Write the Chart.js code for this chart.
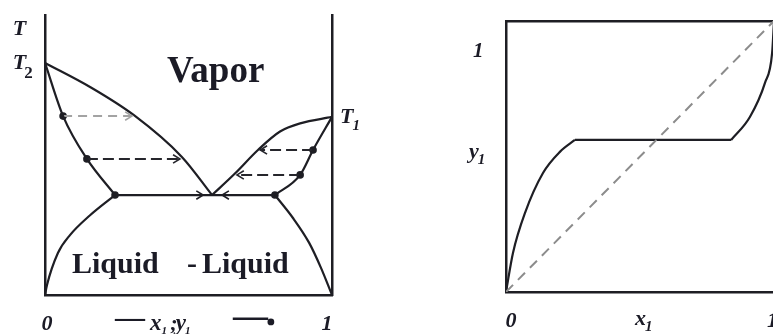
<!DOCTYPE html>
<html>
<head>
<meta charset="utf-8">
<script src="https://cdn.jsdelivr.net/npm/chart.js@4/dist/chart.umd.min.js"></script>
<style>
  html, body { margin: 0; padding: 0; background: #fff; overflow: hidden; width: 773px; height: 334px; }
  #txyBox { position: absolute; left: 0; top: 0; width: 390px; height: 334px; }
  #xyBox  { position: absolute; left: 390px; top: 0; width: 400px; height: 334px; }
</style>
</head>
<body>
<div id="txyBox"><canvas id="txy"></canvas></div>
<div id="xyBox"><canvas id="xy"></canvas></div>
<script>
// ---------- T–x–y diagram (heterogeneous azeotrope) ----------
// x1 / y1 composition (0..1) and temperature on a relative 0..100 scale
const leftLiquidX  = [0, 0.063, 0.146, 0.244];
const leftLiquidT  = [82.9, 63.9, 48.6, 35.7];
const leftVaporX   = [0, 0.157, 0.31, 0.477, 0.582];
const leftVaporT   = [82.9, 74.3, 64.2, 49.3, 35.7];
const rightVaporX  = [0.582, 0.66, 0.742, 0.819, 0.889, 1];
const rightVaporT  = [35.7, 43.2, 51.8, 58.4, 61.3, 63.6];
const rightLiquidX = [0.801, 0.889, 0.934, 1];
const rightLiquidT = [35.7, 42.9, 51.8, 63.6];
const leftSolubX   = [0, 0.007, 0.045, 0.087, 0.157, 0.244];
const leftSolubT   = [0, 3.6, 15, 21.4, 28.5, 35.7];
const rightSolubX  = [0.801, 0.864, 0.92, 0.962, 1];
const rightSolubT  = [35.7, 27.5, 18.7, 9.6, 0];
const threePhaseX  = [0.244, 0.801];
const threePhaseT  = 35.7;
const tieFromX     = [0.063, 0.146, 0.934, 0.889];
const tieToX       = [0.303, 0.470, 0.750, 0.669];
const tieT         = [63.9, 48.6, 51.8, 42.9];
const markerX      = [0.063, 0.146, 0.244, 0.801, 0.889, 0.934];
const markerT      = [63.9, 48.6, 35.7, 35.7, 42.9, 51.8];
const threePhaseArrowTipX = [0.551, 0.617];

// ---------- y–x diagram ----------
const yxLowX   = [0, 0.026, 0.071, 0.138, 0.201, 0.257];
const yxLowY   = [0, 0.144, 0.292, 0.439, 0.517, 0.561];
const plateauX = [0.257, 0.84];
const plateauY = 0.561;
const yxHighX  = [0.84, 0.91, 0.966, 0.993, 1];
const yxHighY  = [0.561, 0.646, 0.771, 0.882, 1];
const diagX    = [0, 1];

const INK = '#1e1e24';
const TXT = '#1b1b26';
const SERIF = "'Liberation Serif', 'DejaVu Serif', serif";

const pts = (xs, ys) => xs.map((x, i) => ({ x, y: Array.isArray(ys) ? ys[i] : ys }));

function curve(xs, ys, extra) {
  return Object.assign({
    data: pts(xs, ys), showLine: true, borderColor: INK, borderWidth: 2.2,
    pointRadius: 0, cubicInterpolationMode: 'monotone', fill: false
  }, extra || {});
}

// open chevron arrowheads at the last point of flagged datasets
const arrowHeads = {
  id: 'arrowHeads',
  afterDatasetsDraw(chart) {
    const ctx = chart.ctx;
    chart.data.datasets.forEach((ds, i) => {
      if (!ds.arrowHead) return;
      const el = chart.getDatasetMeta(i).data;
      const a = el[el.length - 2], b = el[el.length - 1];
      const ang = Math.atan2(b.y - a.y, b.x - a.x);
      const len = 8, spread = 0.55;
      ctx.save();
      ctx.strokeStyle = ds.arrowColor || INK;
      ctx.lineWidth = 1.6;
      ctx.setLineDash([]);
      ctx.beginPath();
      ctx.moveTo(b.x - len * Math.cos(ang - spread), b.y - len * Math.sin(ang - spread));
      ctx.lineTo(b.x, b.y);
      ctx.lineTo(b.x - len * Math.cos(ang + spread), b.y - len * Math.sin(ang + spread));
      ctx.stroke();
      ctx.restore();
    });
  }
};

// text labels placed in data coordinates, with optional subscript
const textLabels = {
  id: 'textLabels',
  afterDraw(chart, args, opts) {
    const ctx = chart.ctx;
    const sx = chart.scales.x, sy = chart.scales.y;
    ctx.save();
    ctx.fillStyle = TXT;
    ctx.strokeStyle = TXT;
    ctx.textBaseline = 'alphabetic';
    (opts.items || []).forEach(it => {
      const px = sx.getPixelForValue(it.x), py = sy.getPixelForValue(it.y);
      if (it.dot) {
        ctx.beginPath(); ctx.arc(px, py, it.dot, 0, Math.PI * 2); ctx.fill();
        return;
      }
      ctx.font = it.font;
      ctx.textAlign = it.align || 'left';
      ctx.fillText(it.text, px, py);
      if (it.sub) {
        const w = ctx.measureText(it.text).width;
        const left = (it.align === 'center') ? px + w / 2 : px + w;
        ctx.font = it.subFont;
        ctx.textAlign = 'left';
        ctx.fillText(it.sub, left + (it.subDx || 0), py + (it.subDy || 6));
      }
    });
    ctx.restore();
  }
};

function hiddenAxis(extra) {
  return Object.assign({
    type: 'linear', display: true,
    grid: { display: false, drawTicks: false },
    ticks: { display: false },
    border: { display: true, color: INK, width: 2.5 }
  }, extra);
}

const F22 = "bold italic 22px " + SERIF;
const F15 = "bold italic 15px " + SERIF;

// ---------- build T–x–y chart ----------
const txyDatasets = [
  curve(leftLiquidX, leftLiquidT),
  curve(leftVaporX, leftVaporT),
  curve(rightVaporX, rightVaporT),
  curve(rightLiquidX, rightLiquidT),
  curve(leftSolubX, leftSolubT),
  curve(rightSolubX, rightSolubT),
  curve(threePhaseX, threePhaseT, { cubicInterpolationMode: 'default', tension: 0 })
];
tieFromX.forEach((x0, i) => {
  const gray = i === 0;
  txyDatasets.push({
    data: [{ x: x0, y: tieT[i] }, { x: tieToX[i], y: tieT[i] }],
    showLine: true, tension: 0, pointRadius: 0,
    borderColor: gray ? '#a3a3a3' : '#26262c', borderWidth: 2,
    borderDash: gray ? [9, 6] : [11, 5],
    arrowHead: true, arrowColor: gray ? '#a3a3a3' : '#26262c'
  });
});
// arrowheads on the three-phase line, converging on the azeotrope
txyDatasets.push({
  data: [{ x: threePhaseArrowTipX[0] - 0.03, y: threePhaseT }, { x: threePhaseArrowTipX[0], y: threePhaseT }],
  showLine: false, pointRadius: 0, arrowHead: true
});
txyDatasets.push({
  data: [{ x: threePhaseArrowTipX[1] + 0.03, y: threePhaseT }, { x: threePhaseArrowTipX[1], y: threePhaseT }],
  showLine: false, pointRadius: 0, arrowHead: true
});
txyDatasets.push({
  data: pts(markerX, markerT), showLine: false,
  pointRadius: 3.8, pointBackgroundColor: INK, pointBorderWidth: 0
});

new Chart(document.getElementById('txy'), {
  type: 'scatter',
  data: { datasets: txyDatasets },
  options: {
    responsive: true, maintainAspectRatio: false, animation: false,
    layout: { padding: { left: 45, right: 58, top: 15, bottom: 39 } },
    scales: {
      x: hiddenAxis({ position: 'bottom', min: 0, max: 1 }),
      y: hiddenAxis({ position: 'left', min: 0, max: 100 }),
      yRight: hiddenAxis({ position: 'right', min: 0, max: 100 })
    },
    plugins: {
      legend: { display: false }, tooltip: { enabled: false },
      textLabels: {
        items: [
          { text: 'T', x: -0.112, y: 92.9, font: F22 },
          { text: 'T', x: -0.112, y: 80.7, font: F22, sub: '2', subFont: "bold 17px " + SERIF, subDx: -2, subDy: 9 },
          { text: 'Vapor', x: 0.425, y: 76.1, font: "bold 37px " + SERIF },
          { text: 'T', x: 1.028, y: 61.4, font: F22, sub: '1', subFont: F15, subDx: -1, subDy: 7 },
          { text: 'Liquid', x: 0.094, y: 7.9, font: "bold 30px " + SERIF },
          { text: '-', x: 0.495, y: 7.9, font: "bold 30px " + SERIF },
          { text: 'Liquid', x: 0.547, y: 7.9, font: "bold 30px " + SERIF },
          { text: '0', x: 0.007, y: -12.5, font: F22, align: 'center' },
          { text: '1', x: 0.983, y: -12.5, font: F22, align: 'center' },
          { text: '\u2014', x: 0.244, y: -11.4, font: "bold 30px " + SERIF },
          { text: 'x', x: 0.366, y: -12.5, font: "bold italic 23px " + SERIF, sub: '1', subFont: "bold italic 11px " + SERIF, subDx: 0, subDy: 4 },
          { text: ';', x: 0.436, y: -12.5, font: "bold italic 22px " + SERIF },
          { text: 'y', x: 0.456, y: -12.5, font: "bold italic 23px " + SERIF, sub: '1', subFont: "bold italic 11px " + SERIF, subDx: -1, subDy: 4 },
          { text: '\u2014', x: 0.655, y: -11.4, font: "bold 35px " + SERIF },
          { dot: 3.4, x: 0.787, y: -9.6 }
        ]
      }
    }
  },
  plugins: [arrowHeads, textLabels]
});

// ---------- build y–x chart ----------
new Chart(document.getElementById('xy'), {
  type: 'scatter',
  data: {
    datasets: [
      { data: pts(diagX, diagX), showLine: true, tension: 0, pointRadius: 0,
        borderColor: '#8c8c8c', borderWidth: 2, borderDash: [10, 7] },
      curve(yxLowX, yxLowY),
      curve(plateauX, plateauY, { cubicInterpolationMode: 'default', tension: 0 }),
      curve(yxHighX, yxHighY)
    ]
  },
  options: {
    responsive: true, maintainAspectRatio: false, animation: false,
    layout: { padding: { left: 116, right: 16, top: 21, bottom: 42 } },
    scales: {
      x: hiddenAxis({ position: 'bottom', min: 0, max: 1 }),
      xTop: hiddenAxis({ position: 'top', min: 0, max: 1 }),
      y: hiddenAxis({ position: 'left', min: 0, max: 1 }),
      yRight: hiddenAxis({ position: 'right', min: 0, max: 1 })
    },
    plugins: {
      legend: { display: false }, tooltip: { enabled: false },
      textLabels: {
        items: [
          { text: '1', x: -0.104, y: 0.867, font: "bold italic 21px " + SERIF, align: 'center' },
          { text: 'y', x: -0.138, y: 0.494, font: F22, sub: '1', subFont: F15, subDx: -1, subDy: 6 },
          { text: '0', x: 0.019, y: -0.129, font: F22, align: 'center' },
          { text: 'x', x: 0.481, y: -0.122, font: F22, sub: '1', subFont: F15, subDx: -1, subDy: 6 },
          { text: '1', x: 0.974, y: -0.129, font: F22 }
        ]
      }
    }
  },
  plugins: [arrowHeads, textLabels]
});
</script>
</body>
</html>
